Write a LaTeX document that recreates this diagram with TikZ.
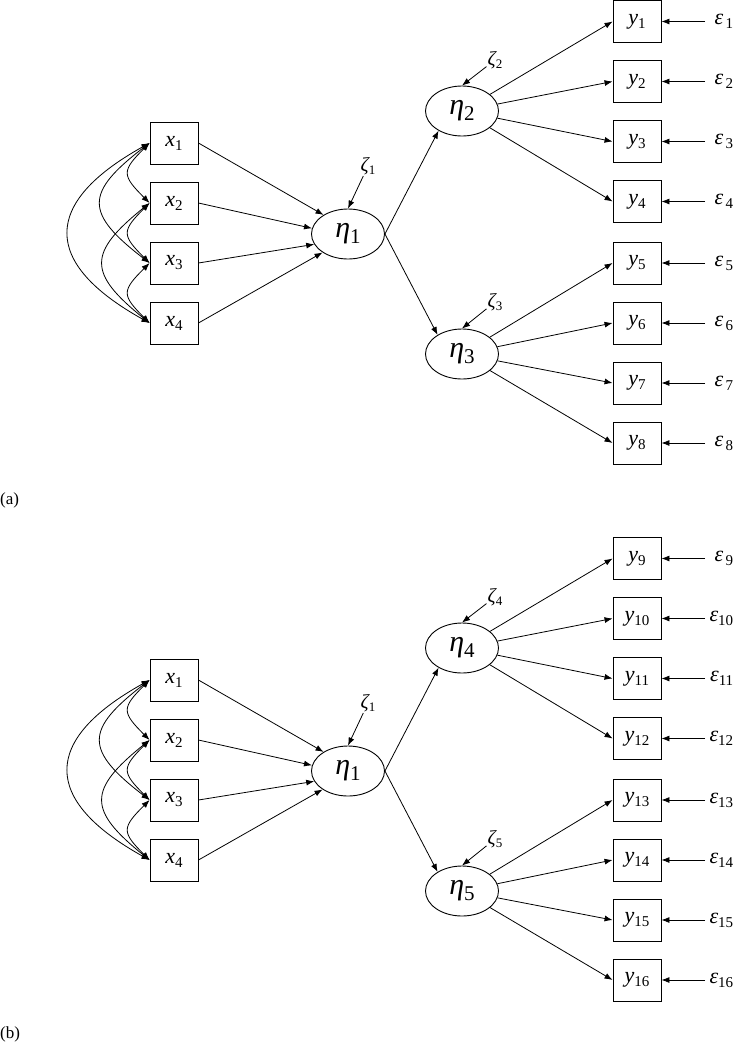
\documentclass[tikz,border=0pt]{standalone}
\usepackage{fontspec}
\setmainfont{Liberation Serif}
\usetikzlibrary{shapes.geometric,arrows.meta}

\newcommand\vlab[2]{{\fontsize{22}{22}\selectfont\itshape #1}\raisebox{-4pt}{\fontsize{15}{15}\selectfont #2}}
\newcommand\eplab[1]{{\fontsize{22}{22}\selectfont\itshape ε}\ifnum#1<10 \kern2.5pt\fi\raisebox{-4pt}{\fontsize{15}{15}\selectfont #1}}
\newcommand\elab[1]{{\fontsize{30}{30}\selectfont\itshape η}\raisebox{-6pt}{\fontsize{21}{21}\selectfont #1}}
\newcommand\zlab[1]{{\fontsize{20}{20}\selectfont\itshape ζ}\raisebox{-3pt}{\fontsize{13}{13}\selectfont #1}}

\newcommand\sempanel[3]{%
  \foreach \i in {1,...,4} {\node[obs] (x\i) at (174,{143+60*(\i-1)}) {\vlab{x}{\i}};}
  \node[lat] (eta1) at (348,234) {\elab{1}};
  \node[lat] (etaA) at (462,111) {\elab{#1}};
  \node[lat] (etaB) at (462,354) {\elab{#2}};
  \node[zlabel] (z1) at (368,166) {\zlab{1}};
  \node[zlabel] (zA) at (495,60) {\zlab{#1}};
  \node[zlabel] (zB) at (495,302) {\zlab{#2}};
  \foreach \j in {1,...,4} {
    \pgfmathtruncatemacro\k{\j+#3}
    \node[obs] (y\j) at (637,{21.5+60*(\j-1)}) {\vlab{y}{\k}};
    \node[errlab] (eps\j) at (705,{21.5+60*(\j-1)}) {\eplab{\k}};
    \draw[arr] (eps\j.west) -- (y\j.east);
    \draw[arr] (etaA) -- (y\j.west);
  }
  \foreach \j in {5,...,8} {
    \pgfmathtruncatemacro\k{\j+#3}
    \node[obs] (y\j) at (637,{263+60*(\j-5)}) {\vlab{y}{\k}};
    \node[errlab] (eps\j) at (705,{263+60*(\j-5)}) {\eplab{\k}};
    \draw[arr] (eps\j.west) -- (y\j.east);
    \draw[arr] (etaB) -- (y\j.west);
  }
  \draw[arr] (x1.east) -- (eta1.142);
  \draw[arr] (x2.east) -- (eta1.171);
  \draw[arr] (x3.east) -- (eta1.197);
  \draw[arr] (x4.east) -- (eta1.216);
  \draw[arr] (eta1.east) -- (etaA.220);
  \draw[arr] (eta1.east) -- (etaB.142);
  \draw[arr] (z1) -- (eta1.north);
  \draw[arr] (zA) -- (etaA.north);
  \draw[arr] (zB) -- (etaB.north);
  \draw[darr] (x1.west) .. controls +(-28,28) and +(-28,-28) .. (x2.west);
  \draw[darr] (x2.west) .. controls +(-28,28) and +(-28,-28) .. (x3.west);
  \draw[darr] (x3.west) .. controls +(-28,28) and +(-28,-28) .. (x4.west);
  \draw[darr] (x1.west) .. controls +(-65,50) and +(-65,-50) .. (x3.west);
  \draw[darr] (x2.west) .. controls +(-62,50) and +(-62,-50) .. (x4.west);
  \draw[darr] (x1.west) .. controls +(-108,60) and +(-108,-60) .. (x4.west);
}

\begin{document}
\begin{tikzpicture}[x=1pt,y=-1pt,
  obs/.style={draw, line width=0.9pt, minimum width=48pt, minimum height=42pt, inner sep=0pt},
  lat/.style={draw, ellipse, line width=0.9pt, minimum width=73pt, minimum height=50pt, inner sep=0pt},
  errlab/.style={anchor=west, inner sep=0pt, text width=28pt, align=right},
  zlabel/.style={inner sep=1pt},
  arr/.style={line width=0.8pt, -{Latex[length=8pt,width=6pt]}},
  darr/.style={line width=0.8pt, {Latex[length=8pt,width=6pt]}-{Latex[length=8pt,width=6pt]}},
  paneltag/.style={anchor=west, inner sep=0pt, font=\fontsize{17}{17}\selectfont}]
\useasboundingbox (0,0) rectangle (733,1050);
\begin{scope}[name prefix=a-]
  \sempanel{2}{3}{0}
  \node[paneltag] (tag) at (0,500) {(a)};
\end{scope}
\begin{scope}[name prefix=b-, yshift=-537pt]
  \sempanel{4}{5}{8}
  \node[paneltag] (tag) at (0,497) {(b)};
\end{scope}
\end{tikzpicture}
\end{document}
